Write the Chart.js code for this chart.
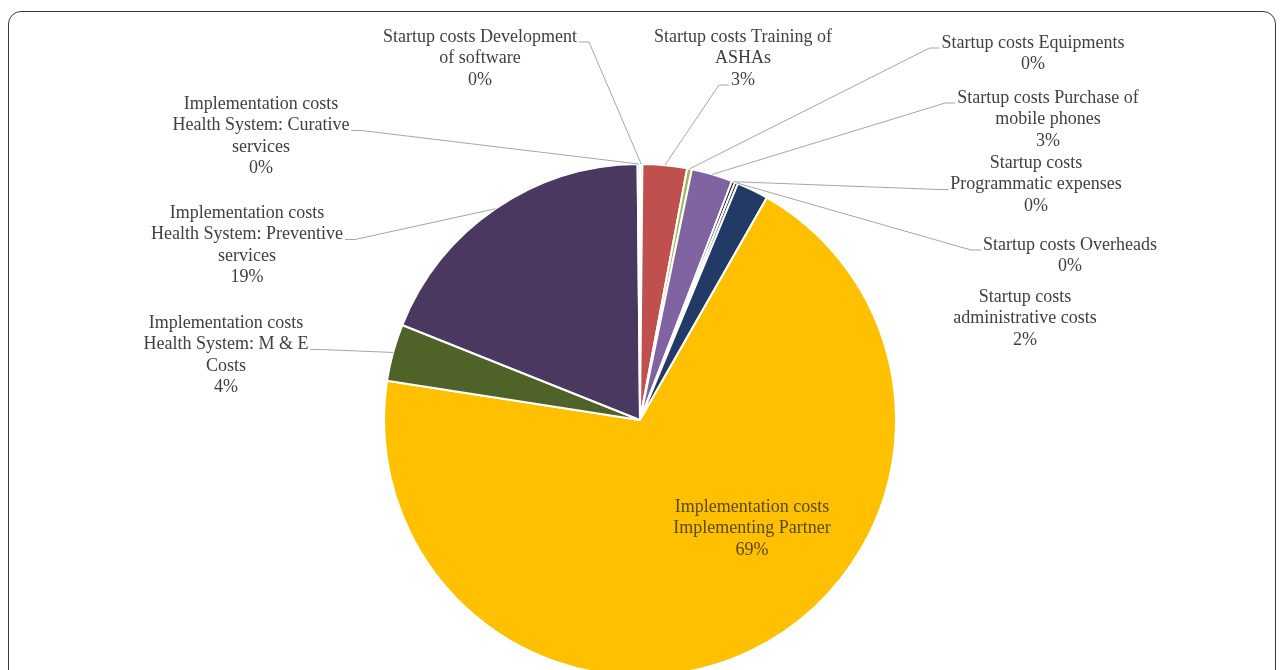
<!DOCTYPE html>
<html>
<head>
<meta charset="utf-8">
<script src="https://cdn.jsdelivr.net/npm/chart.js@4.4.0/dist/chart.umd.min.js"></script>
<style>
  html, body { margin: 0; padding: 0; background: #fff; overflow: hidden; }
  #wrap { position: relative; width: 1284px; height: 670px; overflow: hidden; }
  #frame {
    position: absolute; left: 8px; top: 11px; width: 1268px; height: 700px;
    border: 1.5px solid #3a3a3a; border-radius: 13px; box-sizing: border-box;
  }
  #costChart { position: absolute; left: 0; top: 0; }
</style>
</head>
<body>
<div id="wrap">
  <div id="frame"></div>
  <canvas id="costChart" width="1284" height="700"></canvas>
</div>
<script>
// slice names, already wrapped the way the labels show them
const categories = [
    ['Startup costs Development', 'of software'],
    ['Startup costs Training of', 'ASHAs'],
    ['Startup costs Equipments'],
    ['Startup costs Purchase of', 'mobile phones'],
    ['Startup costs', 'Programmatic expenses'],
    ['Startup costs Overheads'],
    ['Startup costs', 'administrative costs'],
    ['Implementation costs', 'Implementing Partner'],
    ['Implementation costs', 'Health System: M & E', 'Costs'],
    ['Implementation costs', 'Health System: Preventive', 'services'],
    ['Implementation costs', 'Health System: Curative', 'services']
];

// share of total cost (%)
const shares = [0.15, 2.8, 0.3, 2.6, 0.2, 0.2, 2.0, 69.2, 3.6, 18.8, 0.15];

const sliceColors = [
    '#4bacc6', '#c0504d', '#9bbb59', '#8064a2', '#111111', '#262626',
    '#213b66', '#ffc000', '#4f6228', '#4b3861', '#c6d9f1'
];

// where each label sits: centre x, first line y, which side the leader joins, which line
const labelPlaces = [
    { x: 480,  y: 37,  side: 'right', line: 0 },
    { x: 743,  y: 37,  side: 'left',  line: 2 },
    { x: 1033, y: 43,  side: 'left',  line: 0 },
    { x: 1048, y: 98,  side: 'left',  line: 0 },
    { x: 1036, y: 163, side: 'left',  line: 1 },
    { x: 1070, y: 245, side: 'left',  line: 0 },
    { x: 1025, y: 297, side: null },
    { x: 752,  y: 507, side: null, inside: true },
    { x: 226,  y: 323, side: 'right', line: 1 },
    { x: 247,  y: 213, side: 'right', line: 1 },
    { x: 261,  y: 104, side: 'right', line: 1 }
];

const lineGap = 21.5;

const pieLabels = {
    id: 'pieLabels',
    afterDatasetsDraw(chart) {
        const ctx = chart.ctx;
        const meta = chart.getDatasetMeta(0);
        const data = chart.data.datasets[0].data;
        const total = data.reduce((a, b) => a + b, 0);
        ctx.save();
        ctx.font = '18px "Liberation Serif", "Times New Roman", serif';
        ctx.textAlign = 'center';
        ctx.textBaseline = 'middle';
        meta.data.forEach((arc, i) => {
            const place = labelPlaces[i];
            const lines = categories[i].concat([Math.round(data[i] / total * 100) + '%']);
            ctx.fillStyle = place.inside ? '#5a4a10' : '#404040';
            lines.forEach((t, k) => ctx.fillText(t, place.x, place.y + k * lineGap));

            if (!place.side) return;
            const mid = (arc.startAngle + arc.endAngle) / 2;
            const ax = arc.x + Math.cos(mid) * arc.outerRadius;
            const ay = arc.y + Math.sin(mid) * arc.outerRadius;
            const w = ctx.measureText(lines[place.line]).width;
            const ly = place.y + place.line * lineGap + 5;
            const lx = place.side === 'right' ? place.x + w / 2 + 2 : place.x - w / 2 - 2;
            const ex = place.side === 'right' ? lx + 10 : lx - 10;
            ctx.strokeStyle = '#a6a6a6';
            ctx.lineWidth = 1;
            ctx.beginPath();
            ctx.moveTo(lx, ly);
            ctx.lineTo(ex, ly);
            ctx.lineTo(ax, ay);
            ctx.stroke();
        });
        ctx.restore();
    }
};

const costChart = new Chart(document.getElementById('costChart'), {
    type: 'pie',
    data: {
        labels: categories,
        datasets: [{
            data: shares,
            backgroundColor: sliceColors,
            borderColor: '#ffffff',
            borderWidth: 2
        }]
    },
    options: {
        responsive: false,
        animation: false,
        layout: { padding: { top: 163, bottom: 23, left: 383, right: 387 } },
        plugins: {
            legend: { display: false },
            tooltip: { enabled: false }
        }
    },
    plugins: [pieLabels]
});
</script>
</body>
</html>
